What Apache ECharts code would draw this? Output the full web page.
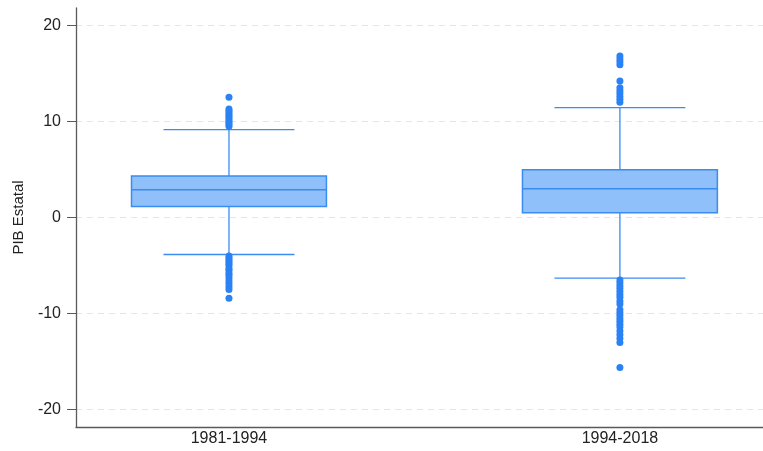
<!DOCTYPE html>
<html>
<head>
<meta charset="utf-8">
<script src="https://cdn.jsdelivr.net/npm/echarts@6/dist/echarts.min.js"></script>
<style>html,body{margin:0;padding:0;background:#fff;}#c{width:763px;height:451px;}</style>
</head>
<body>
<div id="c"></div>
<script>
const categories = ['1981-1994', '1994-2018'];
// [whiskerLow, Q1, median, Q3, whiskerHigh]
const boxStats = [
  [-3.85, 1.14, 2.9, 4.33, 9.15],
  [-6.3, 0.5, 3.0, 4.96, 11.43]
];
const outliers1 = [9.5, 9.7, 9.9, 10.1, 10.3, 10.5, 10.7, 10.9, 11.1, 11.3, 12.5,
  -4.0, -4.2, -4.4, -4.6, -4.8, -5.0, -5.3, -5.5, -5.8, -6.0, -6.3, -6.6, -6.9, -7.2, -7.5, -8.4];
const outliers2 = [12.0, 12.3, 12.6, 12.9, 13.2, 13.5, 14.2, 15.9, 16.2, 16.5, 16.8,
  -6.5, -6.8, -7.1, -7.4, -7.7, -8.0, -8.3, -8.7, -9.0, -9.6, -9.9, -10.2, -10.5, -10.8, -11.1, -11.4, -11.8, -12.2, -12.6, -13.0, -15.6];
const yTicks = [-20, -10, 0, 10, 20];
const yTitle = 'PIB Estatal';

const boxData = boxStats.map((s, i) => [i + 1].concat(s));
const outlierData = [];
[outliers1, outliers2].forEach((arr, i) => arr.forEach(v => outlierData.push([i + 1, v])));

const fillC = '#8fc0fa', lineC = '#3a8cf0', dotC = '#2a82f5';
const font = 'Liberation Sans, Arial, Helvetica';
const chart = echarts.init(document.getElementById('c'));
chart.setOption({
  animation: false,
  grid: { left: 76, right: 0, top: 8, bottom: 24 },
  xAxis: {
    type: 'value', min: 0.6087, max: 2.366,
    splitLine: { show: false },
    axisLine: { show: true, onZero: false, lineStyle: { color: '#5a5a5a', width: 1.3 } },
    axisTick: { show: false },
    axisLabel: {
      customValues: [1, 2],
      formatter: v => categories[Math.round(v) - 1] || '',
      color: '#222', fontFamily: font, fontSize: 16, margin: 4
    }
  },
  yAxis: {
    type: 'value', min: -21.8, max: 21.8,
    name: yTitle, nameLocation: 'middle', nameGap: 50,
    nameTextStyle: { color: '#222', fontFamily: font, fontSize: 15 },
    axisLine: { show: true, onZero: false, lineStyle: { color: '#5a5a5a', width: 1.3 } },
    axisTick: { show: true, customValues: yTicks, length: 9, lineStyle: { color: '#5a5a5a' } },
    axisLabel: { customValues: yTicks, color: '#222', fontFamily: font, fontSize: 16, margin: 15 },
    splitLine: { show: true, lineStyle: { color: '#e6e6e6', type: [6, 5], width: 1 } }
  },
  series: [
    {
      type: 'custom',
      data: boxData,
      encode: { x: 0, y: [1, 2, 3, 4, 5] },
      renderItem: function (params, api) {
        const x = api.value(0);
        const halfBox = 0.2493, halfCap = 0.1675;
        const pLow = api.coord([x, api.value(1)]);
        const pQ1 = api.coord([x, api.value(2)]);
        const pMed = api.coord([x, api.value(3)]);
        const pQ3 = api.coord([x, api.value(4)]);
        const pHigh = api.coord([x, api.value(5)]);
        const bl = api.coord([x - halfBox, 0])[0], br = api.coord([x + halfBox, 0])[0];
        const cl = api.coord([x - halfCap, 0])[0], cr = api.coord([x + halfCap, 0])[0];
        const ls = { stroke: lineC, lineWidth: 1.3 };
        return {
          type: 'group',
          children: [
            { type: 'line', shape: { x1: pHigh[0], y1: pHigh[1], x2: pQ3[0], y2: pQ3[1] }, style: ls },
            { type: 'line', shape: { x1: pLow[0], y1: pLow[1], x2: pQ1[0], y2: pQ1[1] }, style: ls },
            { type: 'line', shape: { x1: cl, y1: pHigh[1], x2: cr, y2: pHigh[1] }, style: ls },
            { type: 'line', shape: { x1: cl, y1: pLow[1], x2: cr, y2: pLow[1] }, style: ls },
            { type: 'rect', shape: { x: bl, y: pQ3[1], width: br - bl, height: pQ1[1] - pQ3[1] }, style: { fill: fillC, stroke: lineC, lineWidth: 1.5 } },
            { type: 'line', shape: { x1: bl, y1: pMed[1], x2: br, y2: pMed[1] }, style: { stroke: lineC, lineWidth: 1.5 } }
          ]
        };
      }
    },
    {
      type: 'scatter',
      data: outlierData,
      symbol: 'circle', symbolSize: 7,
      itemStyle: { color: dotC, opacity: 1 }
    }
  ]
});
</script>
</body>
</html>
